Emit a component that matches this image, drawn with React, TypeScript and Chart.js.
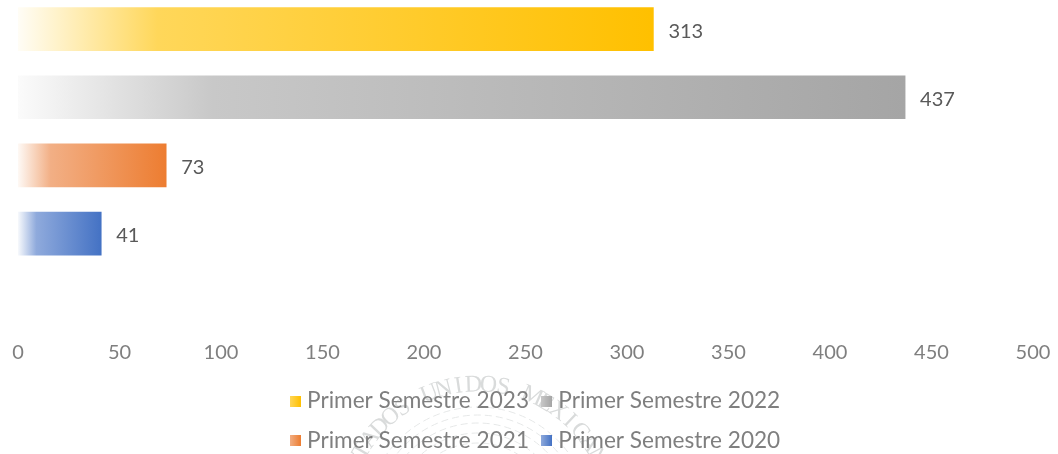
import React, { useEffect, useRef } from "react";
import { Chart, registerables } from "chart.js";

Chart.register(...registerables);

const categories = ["a", "b", "c", "d", ""];
const seriesNames = ["Primer Semestre 2023", "Primer Semestre 2022", "Primer Semestre 2021", "Primer Semestre 2020"];
const values = [313, 437, 73, 41];
const endColors = ["#FFC000", "#A5A5A5", "#ED7D31", "#4472C4"];
const kneeColors = ["#FFD75A", "#C8C8C8", "#F2AF85", "#8FAADC"];
const startColors = ["#FFFDF6", "#FBFBFB", "#FEF9F5", "#F7F9FC"];
const FONT = "Lato, 'Open Sans', sans-serif";
const sealText = "ESTADOS UNIDOS MEXICANOS";

function swatch(i: number) {
  const c = document.createElement("canvas");
  c.width = 11; c.height = 11;
  const g = c.getContext("2d")!;
  const lg = g.createLinearGradient(0, 0, 11, 0);
  lg.addColorStop(0, kneeColors[i]);
  lg.addColorStop(1, endColors[i]);
  g.fillStyle = lg;
  g.fillRect(0, 0, 11, 11);
  return c;
}

const barLabels = {
  id: "barLabels",
  afterDatasetsDraw(chart: any) {
    const ctx = chart.ctx;
    ctx.save();
    ctx.font = `20px ${FONT}`;
    ctx.fillStyle = "#595959";
    ctx.textBaseline = "middle";
    chart.data.datasets.forEach((ds: any, i: number) => {
      const bar = chart.getDatasetMeta(i).data[i];
      ctx.fillText(String(ds.data[i]), bar.x + 15, bar.y + 2);
    });
    ctx.restore();
  },
};

const seal = {
  id: "seal",
  beforeDraw(chart: any) {
    const ctx = chart.ctx;
    const cx = 478, cy = 525, r = 134;
    ctx.save();
    ctx.strokeStyle = "#E6E8E8";
    ctx.lineWidth = 1;
    ctx.setLineDash([7, 4]);
    [112, 104, 96, 86, 76].forEach((rad) => {
      ctx.beginPath();
      ctx.arc(cx, cy, rad, -Math.PI * 0.85, -Math.PI * 0.15);
      ctx.stroke();
    });
    ctx.setLineDash([]);
    ctx.font = "24px 'Liberation Serif', serif";
    ctx.fillStyle = "#D9DBDB";
    ctx.textAlign = "center";
    ctx.textBaseline = "middle";
    const step = 0.112;
    [...sealText].forEach((ch, k) => {
      const a = -Math.PI / 2 + (k - 11.3) * step;
      ctx.save();
      ctx.translate(cx + r * Math.cos(a), cy + r * Math.sin(a));
      ctx.rotate(a + Math.PI / 2);
      ctx.fillText(ch, 0, 0);
      ctx.restore();
    });
    ctx.restore();
  },
};

const twoColumnLegend = {
  id: "twoColumnLegend",
  beforeInit(chart: any) {
    const legend = chart.legend;
    const fit = legend._fitRows;
    legend._fitRows = function (...args: any[]) {
      const full = this.maxWidth;
      this.maxWidth = 520;
      const out = fit.apply(this, args);
      this.maxWidth = full;
      return out;
    };
  },
  afterLayout(chart: any) {
    chart.legend.left += 24;
  },
};

export default function App() {
  const ref = useRef<HTMLCanvasElement>(null);
  useEffect(() => {
    const chart = new Chart(ref.current!, {
      type: "bar",
      plugins: [seal, barLabels, twoColumnLegend],
      data: {
        labels: categories,
        datasets: seriesNames.map((name, i) => ({
          label: name,
          data: categories.map((_, k) => (k === i ? values[i] : null)),
          barThickness: 43,
          borderWidth: 0,
          backgroundColor: (c: any) => {
            const ch = c.chart;
            const x0 = ch.scales.x ? ch.scales.x.getPixelForValue(0) : 18;
            const x1 = ch.scales.x ? ch.scales.x.getPixelForValue(values[i]) : 500;
            const g = ch.ctx.createLinearGradient(x0, 0, x1, 0);
            g.addColorStop(0, startColors[i]);
            g.addColorStop(0.22, kneeColors[i]);
            g.addColorStop(1, endColors[i]);
            return g;
          },
        })),
      },
      options: {
        indexAxis: "y",
        responsive: false,
        animation: false,
        layout: { padding: { left: 18, right: 25, top: 1, bottom: 0 } },
        scales: {
          x: {
            min: 0, max: 500,
            afterFit(s: any) { s.height += 11; },
            grid: { display: false },
            border: { display: false },
            ticks: { stepSize: 50, color: "#7F7F7F", maxRotation: 0, padding: -3, font: { family: FONT, size: 20 } },
          },
          y: {
            stacked: true,
            display: false,
          },
        },
        plugins: {
          tooltip: { enabled: false },
          legend: {
            position: "bottom",
            labels: {
              color: "#7F7F7F",
              font: { family: FONT, size: 22.6 },
              usePointStyle: true,
              pointStyleWidth: 1,
              padding: 17,
              generateLabels: (ch: any) =>
                ch.data.datasets.map((ds: any, i: number) => ({
                  text: ds.label,
                  datasetIndex: i,
                  fontColor: "#7F7F7F",
                  pointStyle: swatch(i),
                  lineWidth: 0,
                  strokeStyle: "transparent",
                  fillStyle: endColors[i],
                })),
            },
          },
        },
      } as any,
    });
    return () => chart.destroy();
  }, []);
  return (
    <div style={{ position: "absolute", left: 0, top: 0, width: 1058, height: 454, overflow: "hidden" }}>
      <canvas
        ref={ref}
        width={1058}
        height={468}
        style={{ position: "absolute", left: 0, top: -6, display: "block" }}
      />
    </div>
  );
}
